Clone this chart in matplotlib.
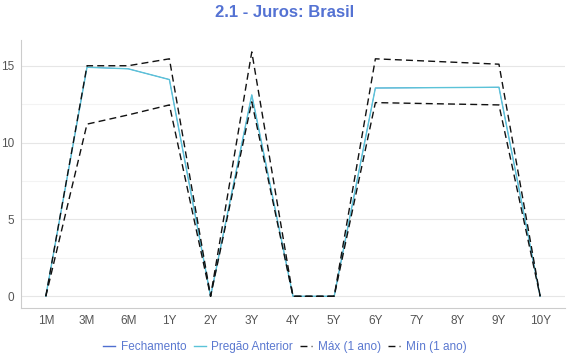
import numpy as np
import matplotlib
matplotlib.use("Agg")
import matplotlib.pyplot as plt
from matplotlib.lines import Line2D

plt.rcParams['font.family'] = ['Liberation Sans', 'DejaVu Sans']

categories = ["1M", "3M", "6M", "1Y", "2Y", "3Y", "4Y", "5Y", "6Y", "7Y", "8Y", "9Y", "10Y"]
fechamento = [0, 14.9, 14.8, 14.1, 0, 13.1, 0, 0, 13.55, None, None, 13.6, 0]
pregao_anterior = [0, 14.9, 14.8, 14.1, 0, 13.1, 0, 0, 13.55, None, None, 13.6, 0]
max_1ano = [0, 15.0, 15.0, 15.45, 0, 15.9, 0, 0, 15.45, None, None, 15.1, 0]
min_1ano = [0, 11.2, 11.8, 12.45, 0, 12.65, 0, 0, 12.6, None, None, 12.45, 0]

fig = plt.figure(figsize=(5.7, 3.6), dpi=100)
ax = fig.add_axes([0.037, 0.145, 0.954, 0.745])

def valid(vals):
    xs = [i for i, v in enumerate(vals) if v is not None]
    ys = [v for v in vals if v is not None]
    return xs, ys

x, y = valid(fechamento)
ax.plot(x, y, color="#4f6fd0", lw=0.5, zorder=3)
x, y = valid(pregao_anterior)
ax.plot(x, y, color="#5bc3d8", lw=1.0, zorder=4)
x, y = valid(max_1ano)
ax.plot(x, y, color="#111111", lw=1.0, ls=(0, (5, 3)), zorder=5)
x, y = valid(min_1ano)
ax.plot(x, y, color="#111111", lw=1.0, ls=(0, (5, 3)), zorder=5)

handles = [
    Line2D([], [], color="#4f6fd0", lw=1.0),
    Line2D([], [], color="#5bc3d8", lw=1.0),
    Line2D([], [], color="#111111", lw=1.0, ls=(0, (5, 3))),
    Line2D([], [], color="#111111", lw=1.0, ls=(0, (5, 3))),
]
labels = ["Fechamento", "Pregão Anterior", "Máx (1 ano)", "Mín (1 ano)"]

ax.set_xlim(-0.6, 12.6)
ax.set_ylim(-0.75, 16.7)
ax.set_xticks(range(len(categories)))
ax.set_xticklabels(categories)
ax.set_yticks([0, 5, 10, 15])
ax.set_yticks([2.5, 7.5, 12.5], minor=True)
ax.grid(axis="y", which="major", color="#e6e6e6", lw=0.8)
ax.grid(axis="y", which="minor", color="#f3f3f3", lw=0.8)
ax.set_axisbelow(True)
ax.tick_params(axis="both", length=0, labelsize=8.5, colors="#555555", pad=5)
ax.tick_params(axis="y", which="minor", length=0)
for s in ["top", "right"]:
    ax.spines[s].set_visible(False)
for s in ["left", "bottom"]:
    ax.spines[s].set_color("#cccccc")
    ax.spines[s].set_linewidth(0.8)

fig.suptitle("2.1 - Juros: Brasil", x=0.5, y=0.985, fontsize=12, fontweight="bold", color="#5472d3")

leg = fig.legend(handles, labels, loc="lower center", bbox_to_anchor=(0.5, -0.01), ncol=4, frameon=False,
                 fontsize=8.5, handlelength=1.0, handletextpad=0.5, columnspacing=0.6)
for t in leg.get_texts():
    t.set_color("#5a78d0")

fig.savefig("out.png", dpi=100)
